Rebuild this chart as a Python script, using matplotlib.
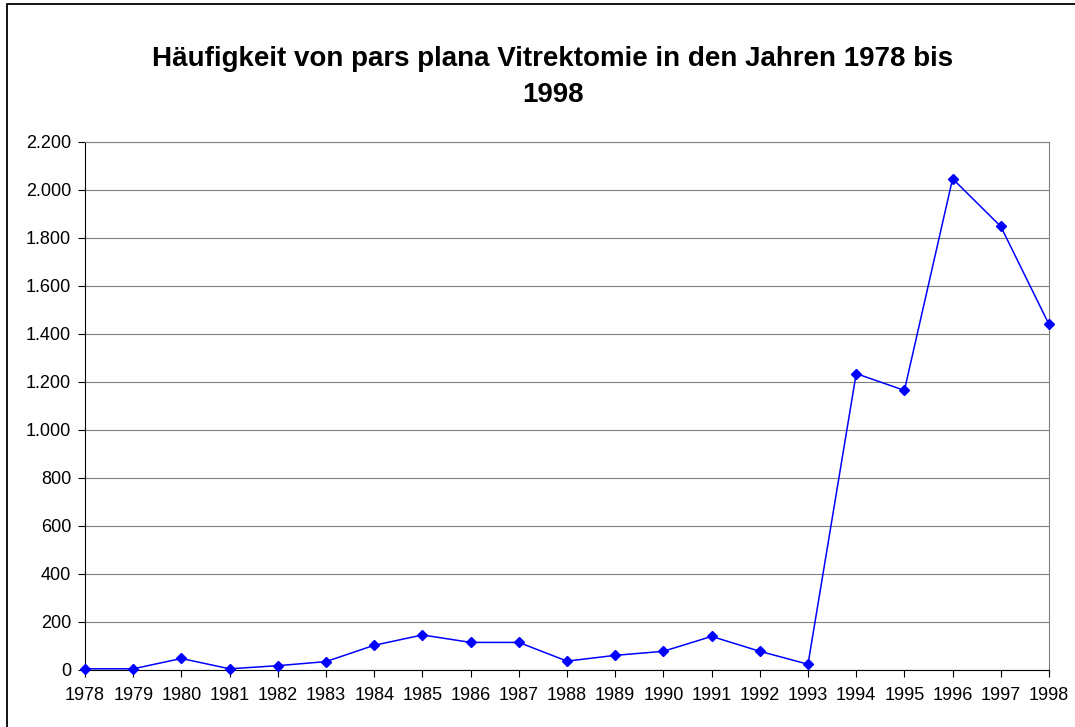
import matplotlib.pyplot as plt
from matplotlib.patches import Rectangle
from matplotlib.ticker import FuncFormatter, MultipleLocator

plt.rcParams['font.family'] = ['Liberation Sans', 'DejaVu Sans']

# Anzahl der Vitrektomien pro Jahr
years = list(range(1978, 1999))
counts = [5, 5, 48, 5, 18, 35, 103, 146, 115, 115, 37, 61, 78, 140, 78, 24,
          1235, 1165, 2047, 1848, 1440]

title = 'Häufigkeit von pars plana Vitrektomie in den Jahren 1978 bis\n1998'

fig = plt.figure(figsize=(10.75, 7.27), dpi=100)
ax = fig.add_axes([85 / 1075, 57 / 727, 964 / 1075, 528 / 727])

ax.plot(years, counts, color='#0000FF', linewidth=1.1,
        marker='D', markersize=5.5, zorder=3, clip_on=False)

ax.set_xlim(1978, 1998)
ax.set_ylim(0, 2200)
ax.set_xticks(years)
ax.yaxis.set_major_locator(MultipleLocator(200))
ax.yaxis.set_major_formatter(FuncFormatter(lambda v, p: f'{v:,.0f}'.replace(',', '.')))
ax.grid(axis='y', color='#808080', linewidth=0.8)
ax.set_axisbelow(True)

for side in ['top', 'right']:
    ax.spines[side].set_color('#808080')
for side in ['left', 'bottom']:
    ax.spines[side].set_color('black')
ax.tick_params(direction='out', length=5, width=0.8, labelsize=13)
ax.tick_params(axis='x', pad=7)
ax.tick_params(axis='y', pad=5)

fig.text(553 / 1075, 1 - 77 / 727, title, ha='center', va='center',
         fontsize=20, fontweight='bold', linespacing=1.55)

# Rahmen (nur links und oben sichtbar, rechts/unten abgeschnitten)
fig.patches.append(Rectangle((7 / 1075, -0.05), 1.1, 1 - 4 / 727 + 0.05,
                             transform=fig.transFigure, fill=False,
                             edgecolor='black', linewidth=1.3))

fig.savefig('out.png', dpi=100)
